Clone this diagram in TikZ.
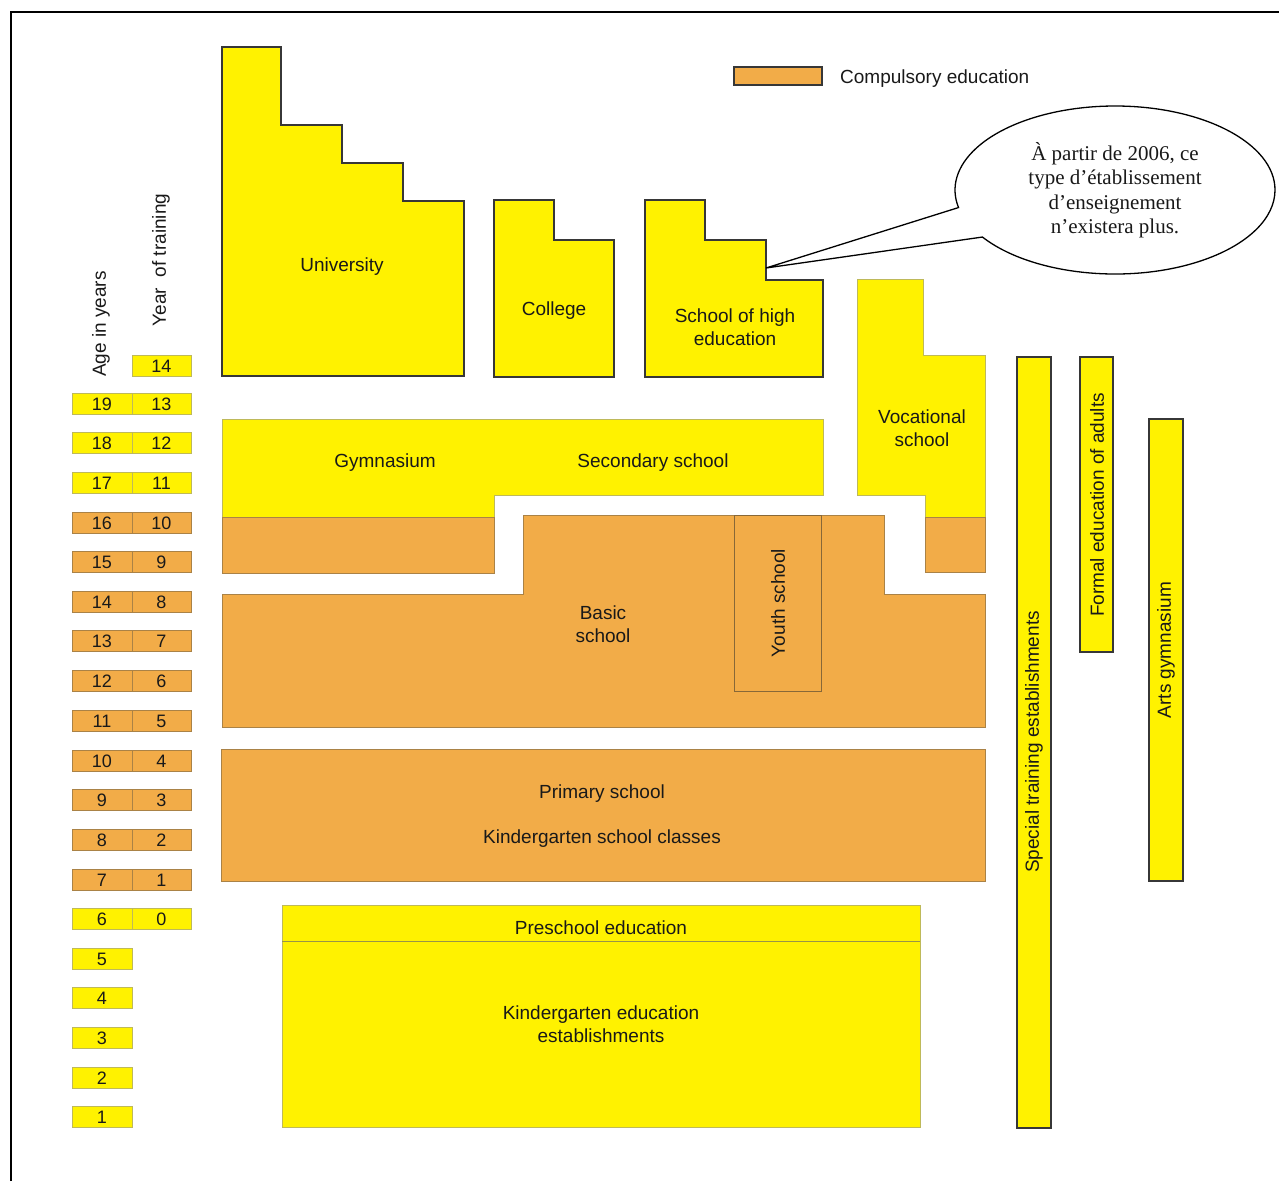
\documentclass[tikz,border=0pt]{standalone}
\usepackage{fontspec}
\setmainfont{Liberation Sans}
\newfontfamily\calloutfont{Liberation Serif}
\usetikzlibrary{shapes.callouts}
\definecolor{yel}{RGB}{255,242,0}
\definecolor{ora}{RGB}{242,172,72}
\definecolor{darkedge}{RGB}{55,55,55}
\definecolor{yedge}{RGB}{190,185,90}
\definecolor{oedge}{RGB}{170,130,70}
\definecolor{txt}{RGB}{25,25,25}
\tikzset{
  hiblock/.style={fill=yel, draw=darkedge, line width=1.3pt, line join=miter},
  yblock/.style={fill=yel, draw=yedge, line width=0.8pt},
  oblock/.style={fill=ora, draw=oedge, line width=0.8pt},
  lbl/.style={font=\fontsize{19}{23}\selectfont, align=center, text=txt, inner sep=0pt},
  ynum/.style={fill=yel, draw=yedge, line width=0.9pt, minimum width=60pt, minimum height=21pt, inner sep=0pt, font=\fontsize{18}{20}\selectfont, text=txt},
  onum/.style={fill=ora, draw=oedge, line width=0.9pt, minimum width=60pt, minimum height=21pt, inner sep=0pt, font=\fontsize{18}{20}\selectfont, text=txt},
}
\begin{document}
\begin{tikzpicture}[x=1pt, y=-1pt]
\useasboundingbox (0,0) rectangle (1279,1181);
% frame
\draw[line width=1.5pt] (11,1181) -- (11,12) -- (1279,12);

% legend
\node[fill=ora, draw=darkedge, line width=1.2pt, minimum width=88pt, minimum height=18pt, inner sep=0pt] (legbox) at (778,76) {};
\node[lbl, anchor=west] (legtxt) at (840,79) {Compulsory education};

% higher education
\draw[hiblock] (222,47)--(281,47)--(281,125)--(342,125)--(342,163)--(403,163)--(403,201)--(464,201)--(464,376)--(222,376)--cycle;
\node[lbl] (univ) at (342,267) {University};
\draw[hiblock] (494,200)--(554,200)--(554,240)--(614,240)--(614,377)--(494,377)--cycle;
\node[lbl] (coll) at (554,311) {College};
\draw[hiblock] (645,200)--(705,200)--(705,240)--(766,240)--(766,280)--(823,280)--(823,377)--(645,377)--cycle;
\node[lbl] (she) at (735,327) {School of high\\education};

% gymnasium / secondary
\draw[yblock] (222,419)--(823,419)--(823,495)--(494,495)--(494,517)--(222,517)--cycle;
\draw[oblock] (222,517) rectangle (494,573);
\node[lbl] (gym) at (385,463) {Gymnasium};
\node[lbl] (sec) at (653,463) {Secondary school};

% vocational
\draw[yblock] (857,279)--(923,279)--(923,355)--(985,355)--(985,517)--(925,517)--(925,495)--(857,495)--cycle;
\draw[oblock] (925,517) rectangle (985,572);
\node[lbl] (voc) at (922,428) {Vocational\\school};

% basic school
\draw[oblock] (523,515)--(884,515)--(884,594)--(985,594)--(985,727)--(222,727)--(222,594)--(523,594)--cycle;
\node[lbl] (basic) at (603,624) {Basic\\school};
\draw[draw=oedge!80!black, line width=0.8pt] (734,515) rectangle (821,691);
\node[lbl, rotate=90] (youth) at (778,603) {Youth school};

% primary
\draw[oblock] (221,749) rectangle (985,881);
\node[lbl] (prim) at (602,794) {Primary school};
\node[lbl] (kgc) at (602,839) {Kindergarten school classes};

% preschool
\draw[yblock] (282,905) rectangle (920,1127);
\draw[draw=yedge!80!black, line width=1pt] (282,941) -- (920,941);
\node[lbl] (pre) at (601,928) {Preschool education};
\node[lbl] (kge) at (601,1024) {Kindergarten education\\establishments};

% vertical bars
\draw[hiblock] (1017,357) rectangle (1051,1128);
\node[lbl, rotate=90] (special) at (1034,742) {Special training establishments};
\draw[hiblock] (1080,357) rectangle (1113,652);
\node[lbl, rotate=90] (formal) at (1097,505) {Formal education of adults};
\draw[hiblock] (1149,419) rectangle (1183,881);
\node[lbl, rotate=90] (arts) at (1166,650) {Arts gymnasium};

% axis titles
\node[lbl, rotate=90] (agetitle) at (101,324) {Age in years};
\node[lbl, rotate=90] (yeartitle) at (161,260) {Year\ \ of training};

% number boxes
\node[ynum, minimum width=59pt] (yr14) at (161.5,366) {14};
\foreach \ag/\yr/\yy/\st in {19/13/404/ynum, 18/12/443/ynum, 17/11/483/ynum,
  16/10/523/onum, 15/9/562/onum, 14/8/602/onum, 13/7/641/onum, 12/6/681/onum,
  11/5/721/onum, 10/4/761/onum, 9/3/800/onum, 8/2/840/onum, 7/1/880/onum, 6/0/919/ynum}{
  \node[style=\st] (age\ag) at (102,\yy) {\ag};
  \node[style=\st, minimum width=59pt] (yr\yr) at (161.5,\yy) {\yr};
}
\foreach \ag/\yy in {5/959, 4/998, 3/1038, 2/1078, 1/1117}{
  \node[ynum] (age\ag) at (102,\yy) {\ag};
}

% callout
\coordinate (tip) at (766,268);
\node[ellipse callout, draw=black, line width=1.3pt, minimum width=320pt, minimum height=168pt,
  callout absolute pointer={(tip)}, callout pointer arc=22, align=center, text=txt,
  font=\calloutfont\fontsize{21}{24.5}\selectfont] (note) at (1115,190)
  {À partir de 2006, ce\\type d’établissement\\d’enseignement\\n’existera plus.};
\end{tikzpicture}
\end{document}
